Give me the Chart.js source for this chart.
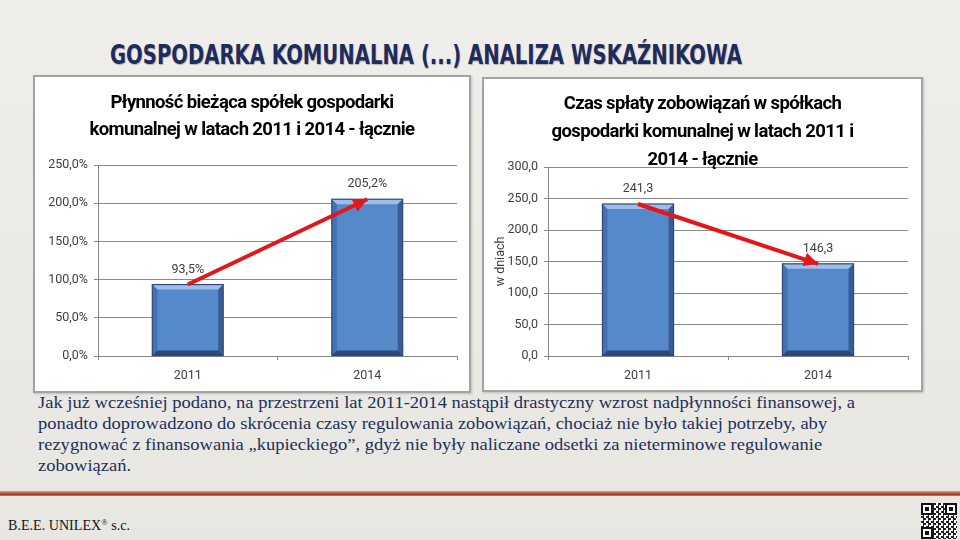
<!DOCTYPE html>
<html lang="pl">
<head>
<meta charset="utf-8">
<script src="https://cdn.jsdelivr.net/npm/chart.js@4.4.1/dist/chart.umd.min.js"></script>
<style>
html,body{margin:0;padding:0;}
body{width:960px;height:540px;position:relative;overflow:hidden;
  background:linear-gradient(180deg,#efeeea 0%,#ebeae5 50%,#e7e6e1 100%);}
.box{position:absolute;background:#fff;border:2px solid #a3a3a3;box-sizing:border-box;
  box-shadow:1px 1px 2px rgba(0,0,0,0.18);}
#box1{left:33px;top:75px;width:438px;height:318px;}
#box2{left:482px;top:77px;width:441px;height:315px;}
.box canvas{display:block;}
#slideTitle{position:absolute;left:110px;top:40px;white-space:nowrap;
  font-family:"DejaVu Sans";font-weight:bold;font-size:27px;line-height:30px;
  color:#1d2b5f;text-shadow:1px 1px 1px rgba(0,0,0,0.25);transform-origin:left top;}
#para{position:absolute;left:38px;top:392px;font-family:"Liberation Serif";font-size:17px;line-height:21px;
  color:#1f2f5e;transform-origin:left top;}
#para div{white-space:nowrap;}
#rule{position:absolute;left:0;top:491px;width:960px;height:5px;
  background:linear-gradient(180deg,#e1a98a 0%,#b5573a 45%,#9c3f25 70%,#c9866a 100%);}
#footer{position:absolute;left:8px;top:512px;white-space:nowrap;font-family:"Liberation Serif";font-size:15px;
  line-height:20px;color:#161616;transform-origin:left top;}
#footer sup{font-size:9px;vertical-align:5px;}
#qr{position:absolute;left:921px;top:503px;width:36px;height:36px;background:#fff;
  background-image:repeating-conic-gradient(#222 0 25%, #fff 0 50%);background-size:5px 5px;}
.fp{position:absolute;width:8px;height:8px;border:2px solid #111;background:#fff;}
.fp::after{content:"";position:absolute;left:2px;top:2px;width:4px;height:4px;background:#111;}
</style>
</head>
<body>
<div id="slideTitle">GOSPODARKA KOMUNALNA (...) ANALIZA WSKAŹNIKOWA</div>
<div class="box" id="box1"><canvas id="c1"></canvas></div>
<div class="box" id="box2"><canvas id="c2"></canvas></div>
<div id="para">
<div id="pl1">Jak już wcześniej podano, na przestrzeni lat 2011-2014 nastąpił drastyczny wzrost nadpłynności finansowej, a</div>
<div>ponadto doprowadzono do skrócenia czasy regulowania zobowiązań, chociaż nie było takiej potrzeby, aby</div>
<div>rezygnować z finansowania „kupieckiego”, gdyż nie były naliczane odsetki za nieterminowe regulowanie</div>
<div>zobowiązań.</div>
</div>
<div id="rule"></div>
<div id="footer">B.E.E. UNILEX<sup>®</sup> s.c.</div>
<div id="qr"><div class="fp" style="left:0;top:0"></div><div class="fp" style="left:24px;top:0"></div><div class="fp" style="left:0;top:24px"></div></div>
<script>
// ---- data ----
const categories = ['2011', '2014'];
const liquidityValues = [93.5, 205.2];
const paymentDaysValues = [241.3, 146.3];
const liquidityTitle = ['Płynność bieżąca spółek gospodarki', 'komunalnej w latach 2011 i 2014 - łącznie'];
const paymentTitle = ['Czas spłaty zobowiązań w spółkach', 'gospodarki komunalnej w latach 2011 i', '2014 - łącznie'];
const liquidityAxis = [0, 250, 50];
const paymentAxis = [0, 300, 50];
const paymentAxisTitle = 'w dniach';

// ---- text fitting for slide texts ----
function fitTo(el, target) {
  const w = el.getBoundingClientRect().width;
  el.style.transform = 'scaleX(' + (target / w) + ')';
}
const st = document.getElementById('slideTitle'); st.style.display = 'inline-block'; fitTo(st, 632);
const pl1 = document.getElementById('pl1'); pl1.style.display = 'inline-block';
const sc = 817 / pl1.getBoundingClientRect().width; pl1.style.display = 'block';
document.getElementById('para').style.transform = 'scaleX(' + sc + ')';
const ft = document.getElementById('footer'); ft.style.display = 'inline-block'; fitTo(ft, 122);

// ---- title font: Roboto bold, tightened to the reference width ----
const titleSize = 18.5;
const mctx = document.createElement('canvas').getContext('2d');
mctx.font = 'bold ' + titleSize + 'px Roboto';
const titleSpacing = (283 - mctx.measureText(liquidityTitle[0]).width) / liquidityTitle[0].length;

// ---- chart helpers ----
Chart.defaults.font.family = 'Roboto';
Chart.defaults.color = '#404040';
const comma = (v, d) => v.toFixed(d).replace('.', ',');

function poly(ctx, pts, fill) {
  ctx.beginPath(); ctx.moveTo(pts[0][0], pts[0][1]);
  for (let i = 1; i < pts.length; i++) ctx.lineTo(pts[i][0], pts[i][1]);
  ctx.closePath(); ctx.fillStyle = fill; ctx.fill();
}

const bevelPlugin = {
  id: 'bevel',
  afterDatasetDraw(chart, args) {
    if (args.index !== 0) return;
    const ctx = chart.ctx;
    args.meta.data.forEach(el => {
      const p = el.getProps(['x', 'y', 'base', 'width'], true);
      const l = p.x - p.width / 2, r = p.x + p.width / 2, t = p.y, b = p.base, d = 5;
      ctx.save();
      poly(ctx, [[l, t], [r, t], [r - d, t + d], [l + d, t + d]], 'rgba(170,200,240,0.85)');
      poly(ctx, [[l, t], [l + d, t + d], [l + d, b - d], [l, b]], 'rgba(35,70,125,0.35)');
      poly(ctx, [[r, t], [r, b], [r - d, b - d], [r - d, t + d]], 'rgba(25,50,95,0.5)');
      poly(ctx, [[l, b], [r, b], [r - d, b - d], [l + d, b - d]], 'rgba(20,40,80,0.65)');
      ctx.strokeStyle = '#2c4a77'; ctx.lineWidth = 1.2;
      ctx.strokeRect(l, t, r - l, b - t);
      ctx.restore();
    });
  }
};

const arrowPlugin = {
  id: 'arrowHead',
  afterDatasetDraw(chart, args) {
    if (args.index !== 1) return;
    const pts = args.meta.data;
    const a = pts[pts.length - 2], b = pts[pts.length - 1];
    const ang = Math.atan2(b.y - a.y, b.x - a.x);
    const len = 14, hw = 7;
    const ctx = chart.ctx;
    ctx.save();
    ctx.translate(b.x, b.y); ctx.rotate(ang);
    ctx.beginPath(); ctx.moveTo(0, 0); ctx.lineTo(-len, -hw); ctx.lineTo(-len, hw); ctx.closePath();
    ctx.fillStyle = '#e3161c'; ctx.fill();
    ctx.restore();
  }
};

const labelPlugin = {
  id: 'valueLabels',
  afterDatasetsDraw(chart, args, opts) {
    const ctx = chart.ctx;
    const meta = chart.getDatasetMeta(0);
    const vals = chart.data.datasets[0].data;
    ctx.save();
    ctx.font = '12.5px Roboto'; ctx.fillStyle = '#404040';
    ctx.textAlign = 'center'; ctx.textBaseline = 'middle';
    meta.data.forEach((el, i) => ctx.fillText(opts.fmt(vals[i]), el.x, el.y - 15));
    ctx.restore();
  }
};

function makeChart(id, values, title, axis, tickFmt, labelFmt, yTitle, t, lay) {
  const chart = new Chart(document.getElementById(id), {
    data: {
      labels: categories,
      datasets: [
        { type: 'bar', data: values, backgroundColor: '#5689c9', borderWidth: 0,
          barPercentage: 0.395, categoryPercentage: 1, order: 2 },
        { type: 'line', data: values, borderColor: '#e3161c', borderWidth: 4, pointRadius: 0,
          fill: false, tension: 0, order: 1 }
      ]
    },
    options: {
      responsive: true, maintainAspectRatio: false, animation: false,
      layout: { padding: { left: 0, right: lay.right, top: 0, bottom: 0 } },
      plugins: {
        legend: { display: false }, tooltip: { enabled: false },
        title: { display: true, text: title, color: '#000',
          font: { family: 'Roboto', size: titleSize, weight: 'bold', lineHeight: t.lh / titleSize },
          padding: { top: t.top, bottom: t.bottom } },
        valueLabels: { fmt: labelFmt }
      },
      scales: {
        x: {
          offset: true,
          grid: { display: true, offset: true, drawOnChartArea: false, drawTicks: true, tickLength: 4, color: '#878787' },
          border: { display: true, color: '#878787' },
          ticks: { color: '#404040', font: { size: 12.5 }, padding: 8 },
          afterFit(s) { s.height = lay.xh; }
        },
        y: {
          min: axis[0], max: axis[1],
          ticks: { stepSize: axis[2], color: '#404040', font: { size: 12.5 }, padding: 6, callback: tickFmt },
          grid: { color: '#8a8a8a', tickLength: 4, drawTicks: true },
          border: { display: true, color: '#878787' },
          title: yTitle ? { display: true, text: yTitle, color: '#404040', font: { size: 12.5 }, padding: { top: 9, bottom: 0 } } : { display: false },
          afterFit(s) { s.width = lay.yw; }
        }
      }
    },
    plugins: [bevelPlugin, arrowPlugin, labelPlugin]
  });
  // draw the chart title centred on the whole box, with tightened letter spacing (Calibri-like width)
  const tb = chart.titleBlock;
  if (tb) {
    const orig = tb.draw.bind(tb);
    tb.draw = function () {
      const ctx = chart.ctx; ctx.save();
      ctx.translate(lay.right / 2, 0);
      ctx.letterSpacing = titleSpacing.toFixed(2) + 'px';
      orig(); ctx.restore();
    };
    chart.draw();
  }
  return chart;
}

makeChart('c1', liquidityValues, liquidityTitle, liquidityAxis,
  v => comma(v, 1) + '%', v => comma(v, 1) + '%', null,
  { lh: 27, top: 13, bottom: 21 }, { right: 12, xh: 35, yw: 63 });
makeChart('c2', paymentDaysValues, paymentTitle, paymentAxis,
  v => comma(v, 1), v => comma(v, 1), paymentAxisTitle,
  { lh: 28, top: 11, bottom: -7 }, { right: 13, xh: 34, yw: 64 });
</script>
</body>
</html>
